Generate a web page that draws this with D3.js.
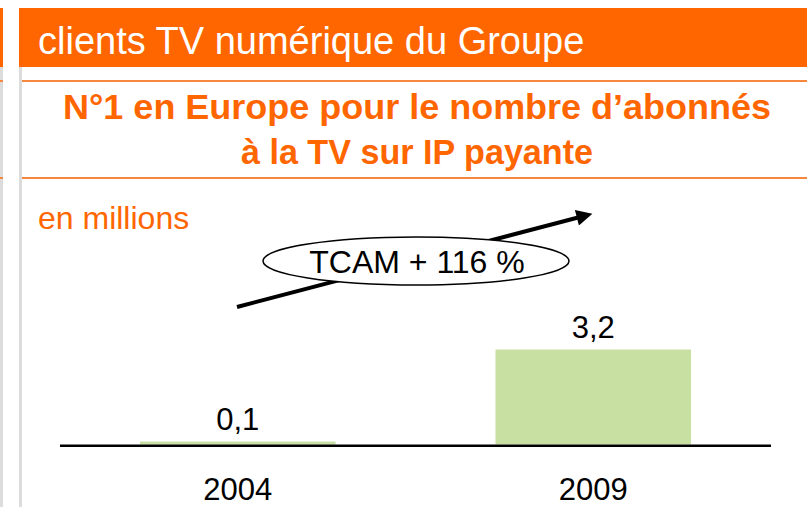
<!DOCTYPE html>
<html>
<head>
<meta charset="utf-8">
<script src="https://cdn.jsdelivr.net/npm/d3@7"></script>
<style>
  html, body { margin: 0; padding: 0; background: #fff; }
  svg { display: block; font-family: "Liberation Sans", Arial, Helvetica, sans-serif; }
</style>
</head>
<body>
<div id="chart"></div>
<script>
// chart data
const years = ['2004', '2009'];
const subscribers = [0.1, 3.2];
const valueLabels = ['0,1', '3,2'];
const headerText = 'clients TV numérique du Groupe';
const titleLines = ['N°1 en Europe pour le nombre d\u2019abonnés', 'à la TV sur IP payante'];
const unitText = 'en millions';
const cagrText = 'TCAM + 116 %';

const W = 807, H = 507;
const orange = '#ff6600';
const lineOrange = '#f7873f';

const svg = d3.select('#chart').append('svg')
  .attr('width', W)
  .attr('height', H);

// slide frame: left stubs and header band
svg.append('rect').attr('x', 0).attr('y', 8).attr('width', 3).attr('height', 59).attr('fill', orange);
svg.append('rect').attr('x', 0).attr('y', 67).attr('width', 3).attr('height', H - 67).attr('fill', '#dcdcdc');
svg.append('rect').attr('x', 19).attr('y', 67).attr('width', 3).attr('height', H - 67).attr('fill', '#dcdcdc');
svg.append('rect').attr('x', 19).attr('y', 8).attr('width', W - 19).attr('height', 59).attr('fill', orange);

svg.append('text')
  .attr('x', 38).attr('y', 54)
  .attr('fill', '#fff')
  .style('font-size', '38px')
  .text(headerText);

// thin orange rules around the title
[81, 178].forEach(y => {
  svg.append('rect').attr('x', 22).attr('y', y - 1).attr('width', W - 22).attr('height', 2).attr('fill', lineOrange);
  svg.append('rect').attr('x', 0).attr('y', y - 1).attr('width', 3).attr('height', 2).attr('fill', lineOrange);
});

const titleWidths = [708, 352];
svg.selectAll('.title')
  .data(titleLines)
  .enter().append('text')
  .attr('class', 'title')
  .attr('x', 417)
  .attr('y', (d, i) => 119 + i * 45)
  .attr('text-anchor', 'middle')
  .attr('textLength', (d, i) => titleWidths[i])
  .attr('lengthAdjust', 'spacingAndGlyphs')
  .attr('fill', orange)
  .style('font-size', '35px')
  .style('font-weight', 'bold')
  .text(d => d);

svg.append('text')
  .attr('x', 38).attr('y', 229)
  .attr('fill', orange)
  .style('font-size', '32px')
  .text(unitText);

// scales
const x = d3.scaleBand()
  .domain(years)
  .range([60, 771])
  .paddingInner(0.45)
  .paddingOuter(0.225);

const y = d3.scaleLinear()
  .domain([0, 3.2])
  .range([444.5, 349.5]);

// bars
svg.selectAll('.bar')
  .data(years)
  .enter().append('rect')
  .attr('class', 'bar')
  .attr('x', d => x(d))
  .attr('width', x.bandwidth())
  .attr('y', (d, i) => y(subscribers[i]))
  .attr('height', (d, i) => y(0) - y(subscribers[i]))
  .attr('fill', '#c9e0a3');

// baseline
svg.append('line')
  .attr('x1', 60).attr('x2', 771)
  .attr('y1', y(0) + 1.2).attr('y2', y(0) + 1.2)
  .attr('stroke', '#000')
  .attr('stroke-width', 2.4);

// value labels
svg.selectAll('.val')
  .data(years)
  .enter().append('text')
  .attr('class', 'val')
  .attr('x', d => x(d) + x.bandwidth() / 2)
  .attr('y', (d, i) => y(subscribers[i]) - 12)
  .attr('text-anchor', 'middle')
  .style('font-size', '31px')
  .text((d, i) => valueLabels[i]);

// x axis labels
const xAxis = d3.axisBottom(x).tickSize(0).tickPadding(0);
const gx = svg.append('g')
  .attr('transform', `translate(0,${y(0)})`)
  .call(xAxis);
gx.select('.domain').remove();
gx.selectAll('text')
  .attr('dy', null)
  .attr('y', 55)
  .attr('fill', '#000')
  .style('font-size', '31px')
  .style('font-family', '"Liberation Sans", Arial, sans-serif');

// growth arrow with CAGR ellipse
const defs = svg.append('defs');
defs.append('marker')
  .attr('id', 'arrowhead')
  .attr('viewBox', '0 0 10 10')
  .attr('refX', 2).attr('refY', 5)
  .attr('markerWidth', 4.5).attr('markerHeight', 4)
  .attr('orient', 'auto')
  .append('path')
  .attr('d', 'M0,0 L10,5 L0,10 Z')
  .attr('fill', '#000');

svg.append('line')
  .attr('x1', 237).attr('y1', 307)
  .attr('x2', 580).attr('y2', 217)
  .attr('stroke', '#000')
  .attr('stroke-width', 4)
  .attr('marker-end', 'url(#arrowhead)');

svg.append('ellipse')
  .attr('cx', 416).attr('cy', 261)
  .attr('rx', 153).attr('ry', 24)
  .attr('fill', '#fff')
  .attr('stroke', '#000')
  .attr('stroke-width', 1.5);

svg.append('text')
  .attr('x', 417).attr('y', 273)
  .attr('text-anchor', 'middle')
  .style('font-size', '32px')
  .text(cagrText);
</script>
</body>
</html>
